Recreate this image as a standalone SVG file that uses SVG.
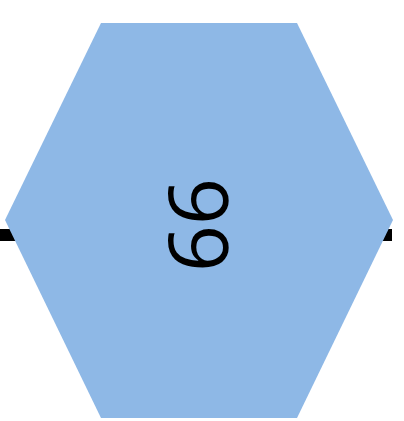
<svg xmlns="http://www.w3.org/2000/svg" width="404" height="421" viewBox="0 0 404 421">
<style>
.edge{stroke:#000;stroke-width:12;fill:none}
.hex{fill:#8eb8e6;stroke:none}
.lbl{font-family:"Open Sans","Liberation Sans",Arial,sans-serif;font-size:82px;fill:#000}
</style>
<g id="connectors">
<line class="edge" x1="0" y1="235" x2="392" y2="235"/>
</g>
<g id="node-99">
<polygon class="hex" points="101,23 297,23 393,220 297,418 101,418 5,220"/>
<text class="lbl" transform="translate(201,225) rotate(90)" text-anchor="middle" dominant-baseline="central">99</text>
</g>
</svg>
